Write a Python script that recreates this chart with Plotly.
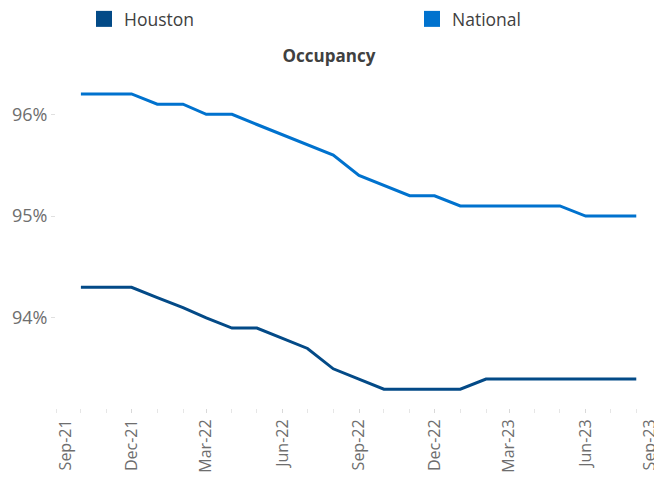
import plotly.graph_objects as go

months = ["2021-10-01", "2021-11-01", "2021-12-01", "2022-01-01", "2022-02-01", "2022-03-01",
          "2022-04-01", "2022-05-01", "2022-06-01", "2022-07-01", "2022-08-01", "2022-09-01",
          "2022-10-01", "2022-11-01", "2022-12-01", "2023-01-01", "2023-02-01", "2023-03-01",
          "2023-04-01", "2023-05-01", "2023-06-01", "2023-07-01", "2023-08-01"]
houston = [94.3, 94.3, 94.3, 94.2, 94.1, 94.0, 93.9, 93.9, 93.8, 93.7, 93.5, 93.4,
           93.3, 93.3, 93.3, 93.3, 93.4, 93.4, 93.4, 93.4, 93.4, 93.4, 93.4]
national = [96.2, 96.2, 96.2, 96.1, 96.1, 96.0, 96.0, 95.9, 95.8, 95.7, 95.6, 95.4,
            95.3, 95.2, 95.2, 95.1, 95.1, 95.1, 95.1, 95.1, 95.0, 95.0, 95.0]
x_start, x_end = "2021-09-01", "2023-09-01"
x_quarter_ticks = ["2021-12-01", "2022-03-01", "2022-06-01", "2022-09-01",
                   "2022-12-01", "2023-03-01", "2023-06-01"]
y_ticks = [94, 95, 96]
y_tick_labels = ["94%", "95%", "96%"]

HOU_COLOR = "#034a87"
NAT_COLOR = "#0072ce"
FONT = "Open Sans"
TICK_FONT = dict(family=FONT, size=16, color="#6e6e6e")

W, H = 654, 472  # page body has an 8px default margin

fig = go.Figure()
fig.add_trace(go.Scatter(x=months, y=houston, mode="lines", name="Houston",
                         line=dict(color=HOU_COLOR, width=3), showlegend=False))
fig.add_trace(go.Scatter(x=months, y=national, mode="lines", name="National",
                         line=dict(color=NAT_COLOR, width=3), showlegend=False))
# legend swatches (square)
fig.add_trace(go.Scatter(x=[None], y=[None], mode="markers", name="Houston", legend="legend",
                         marker=dict(symbol="square", size=16, color=HOU_COLOR)))
fig.add_trace(go.Scatter(x=[None], y=[None], mode="markers", name="National", legend="legend2",
                         marker=dict(symbol="square", size=16, color=NAT_COLOR)))
# empty traces so the end-label axes get drawn
for ax in ("x2", "x3"):
    fig.add_trace(go.Scatter(x=[None], y=[None], mode="lines", xaxis=ax, yaxis="y",
                             showlegend=False, hoverinfo="skip"))

legend_common = dict(orientation="h", xref="container", yref="container",
                     xanchor="left", yanchor="middle", y=1 - 11 / H,
                     font=dict(family=FONT, size=17.5, color="#404040"),
                     bgcolor="rgba(0,0,0,0)")

end_axis_common = dict(overlaying="x", anchor="y", side="bottom",
                       range=[x_start, x_end], type="date", automargin=False,
                       tickformat="%b-%y", tickangle=-90,
                       ticks="outside", ticklen=4, tickcolor="rgba(0,0,0,0)",
                       showgrid=False, showline=False, zeroline=False,
                       ticklabeloverflow="allow", tickfont=TICK_FONT)

fig.update_layout(
    width=W, height=H,
    margin=dict(l=48, r=0, t=72, b=72),
    paper_bgcolor="white", plot_bgcolor="white",
    font=dict(family=FONT, color="#6e6e6e"),
    title=dict(text="<b>Occupancy</b>", x=321 / W, xanchor="center",
               yref="container", y=1 - 48 / H, yanchor="middle",
               font=dict(family=FONT, size=17, color="#404040")),
    legend=dict(x=76 / W, **legend_common),
    legend2=dict(x=404 / W, **legend_common),
    showlegend=True,
    xaxis2=dict(tickvals=[x_start], ticklabelshift=10, **end_axis_common),
    xaxis3=dict(tickvals=[x_end], ticklabelshift=-12, **end_axis_common),
)
fig.layout.xaxis.update(
    range=[x_start, x_end], automargin=False,
    tickvals=x_quarter_ticks, tickformat="%b-%y", tickangle=-90,
    ticks="outside", ticklen=4, tickcolor="#d9d9d9",
    minor=dict(dtick="M1", tick0=x_start, ticks="outside", ticklen=4, tickcolor="#e6e6e6"),
    showgrid=False, showline=False, zeroline=False,
    ticklabeloverflow="allow", tickfont=TICK_FONT,
)
fig.update_yaxes(
    range=[93.115, 96.337], automargin=False,
    tickvals=y_ticks, ticktext=y_tick_labels,
    ticks="outside", ticklen=4, tickcolor="#e0e0e0",
    showgrid=False, showline=False, zeroline=False,
    tickfont=dict(family=FONT, size=18, color="#6e6e6e"),
)

fig.write_html("out.html")
